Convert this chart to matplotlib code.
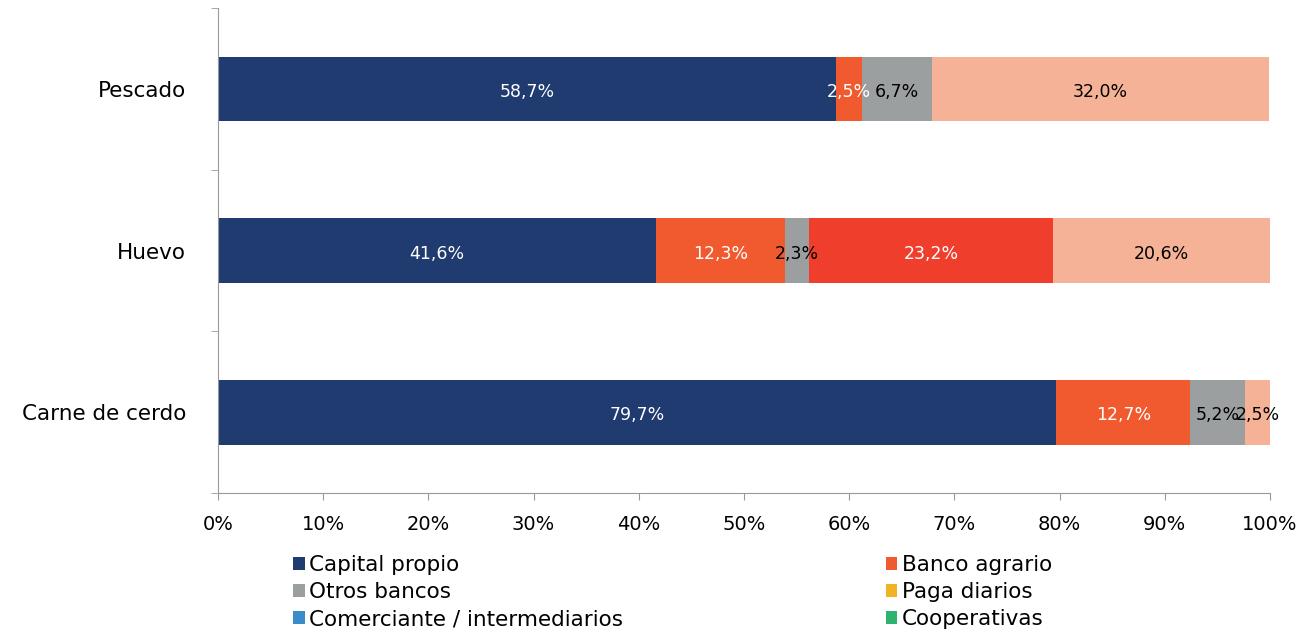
import matplotlib
matplotlib.use('Agg')
import matplotlib.pyplot as plt
import numpy as np
from matplotlib.patches import Patch

# categories, bottom to top
categories = ['Carne de cerdo', 'Huevo', 'Pescado']

# shares in % per source of financing
capital_propio = [79.7, 41.6, 58.7]
banco_agrario = [12.7, 12.3, 2.5]
otros_bancos = [5.2, 2.3, 6.7]
paga_diarios = [0.0, 0.0, 0.0]
comerciante = [0.0, 0.0, 0.0]
cooperativas = [0.0, 0.0, 0.0]
serie_7 = [0.0, 23.2, 0.0]
serie_8 = [2.5, 20.6, 32.0]

series = [
    ('Capital propio', capital_propio, '#1f3b6f', 'white'),
    ('Banco agrario', banco_agrario, '#f15a2e', 'white'),
    ('Otros bancos', otros_bancos, '#9c9fa0', 'black'),
    ('Paga diarios', paga_diarios, '#f0b323', 'black'),
    ('Comerciante / intermediarios', comerciante, '#3a8cc8', 'white'),
    ('Cooperativas', cooperativas, '#2db36f', 'white'),
    ('Serie 7', serie_7, '#ef3e2c', 'white'),
    ('Serie 8', serie_8, '#f6b297', 'black'),
]

plt.rcParams['font.family'] = ['DejaVu Sans']

fig = plt.figure(figsize=(13.1, 6.33), dpi=100)
ax = fig.add_axes([0.1664, 0.2212, 0.8031, 0.7658])

y = np.arange(len(categories))
left = np.zeros(len(categories))
for name, vals, color, tcolor in series:
    vals = np.array(vals)
    ax.barh(y, vals, left=left, height=0.4, color=color, label=name)
    for yi, v, l in zip(y, vals, left):
        if v > 0:
            ax.text(l + v / 2, yi - 0.02, '{:.1f}%'.format(v).replace('.', ','),
                    ha='center', va='center', color=tcolor, fontsize=12.5)
    left += vals

ax.set_xlim(0, 100)
ax.set_ylim(-0.5, 2.5)
ax.set_xticks(np.arange(0, 101, 10))
ax.set_xticklabels(['{}%'.format(t) for t in range(0, 101, 10)], fontsize=14)
ax.set_yticks(y)
ax.set_yticklabels(categories, fontsize=15.5)
ax.set_yticks([-0.5, 0.5, 1.5, 2.5], minor=True)
ax.tick_params(axis='y', which='major', length=0, pad=23)
ax.tick_params(axis='y', which='minor', length=5, color='#999999')
ax.tick_params(axis='x', length=5, color='#999999', pad=11)
for s in ['top', 'right']:
    ax.spines[s].set_visible(False)
for s in ['left', 'bottom']:
    ax.spines[s].set_color('#999999')

# legend in two columns below the plot
handles = {name: Patch(facecolor=color) for name, vals, color, tcolor in series}
left_names = ['Capital propio', 'Otros bancos', 'Comerciante / intermediarios']
right_names = ['Banco agrario', 'Paga diarios', 'Cooperativas']
for names, xpos in [(left_names, 0.2235), (right_names, 0.676)]:
    fig.legend([handles[n] for n in names], names, loc='upper left',
               bbox_to_anchor=(xpos, 0.123), frameon=False, fontsize=15.5,
               handlelength=0.55, handleheight=0.55, handletextpad=0.2,
               labelspacing=0.33, borderpad=0, borderaxespad=0)

fig.savefig('out.png', dpi=100)
